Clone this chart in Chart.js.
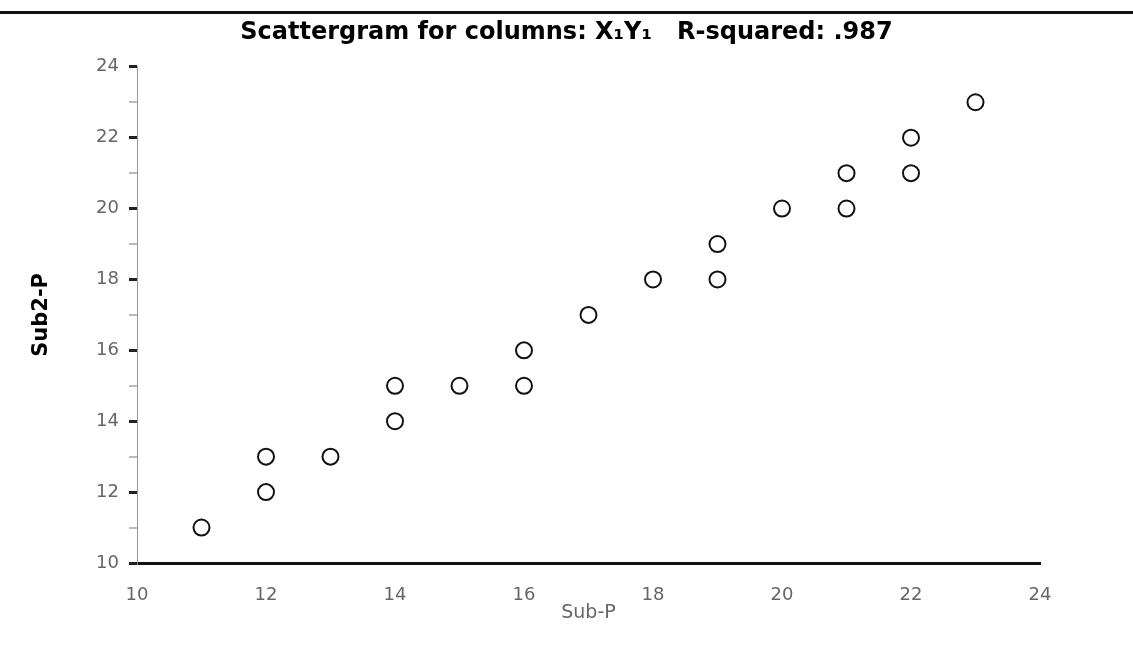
<!DOCTYPE html>
<html>
<head>
<meta charset="utf-8">
<script src="https://cdn.jsdelivr.net/npm/chart.js@4.4.1/dist/chart.umd.min.js"></script>
<style>
  body { margin: 0; background: #fff; }
  #wrap { position: relative; width: 1133px; height: 660px; }
  #topRule { position: absolute; left: 0; top: 11px; width: 1133px; height: 3px; background: #111; }
</style>
</head>
<body>
<div id="wrap">
  <div id="topRule"></div>
  <canvas id="scatterChart" width="1133" height="660"></canvas>
</div>
<script>
// values
const subP  = [11, 12, 12, 13, 14, 14, 15, 16, 16, 17, 18, 19, 19, 20, 21, 21, 22, 22, 23];
const sub2P = [11, 12, 13, 13, 14, 15, 15, 15, 16, 17, 18, 18, 19, 20, 20, 21, 21, 22, 23];
const xTicks = [10, 12, 14, 16, 18, 20, 22, 24];
const yTicks = [10, 12, 14, 16, 18, 20, 22, 24];

const points = subP.map((x, i) => ({ x: x, y: sub2P[i] }));

const ctx = document.getElementById("scatterChart");
const chart = new Chart(ctx, {
    type: "scatter",
    data: {
        datasets: [{
            label: "Sub2-P vs Sub-P",
            data: points,
            pointStyle: "circle",
            pointRadius: 8,
            pointBorderWidth: 2,
            pointBorderColor: "#111",
            pointBackgroundColor: "#fff"
        }]
    },
    options: {
        responsive: false,
        animation: false,
        layout: { padding: 0 },
        plugins: {
            legend: { display: false },
            tooltip: { enabled: false },
            title: {
                display: true,
                text: "Scattergram for columns: X\u2081Y\u2081   R-squared: .987",
                color: "#000",
                font: { family: "DejaVu Sans", size: 24, weight: "bold" },
                padding: { top: 18, bottom: 20 }
            }
        },
        scales: {
            x: {
                type: "linear",
                min: 10,
                max: 24,
                afterBuildTicks: axis => { axis.ticks = xTicks.map(v => ({ value: v })); },
                afterFit: scale => { scale.height = 97; },
                border: { display: true, color: "#111", width: 3 },
                grid: { display: false },
                ticks: {
                    color: "#666",
                    padding: 14,
                    font: { family: "DejaVu Sans", size: 18 }
                },
                title: {
                    display: true,
                    text: "Sub-P",
                    color: "#666",
                    font: { family: "DejaVu Sans", size: 19 },
                    padding: { top: 0, bottom: 36 }
                }
            },
            y: {
                type: "linear",
                min: 10,
                max: 24,
                afterFit: scale => { scale.width = 137; },
                border: { display: true, color: "#999", width: 1, dash: [2, 8] },
                grid: {
                    display: true,
                    drawOnChartArea: false,
                    tickLength: 8,
                    color: ctx => (ctx.tick && ctx.tick.value % 2 === 0) ? "#222" : "#bbb",
                    lineWidth: ctx => (ctx.tick && ctx.tick.value % 2 === 0) ? 3 : 2
                },
                ticks: {
                    stepSize: 1,
                    color: "#666",
                    padding: 10,
                    font: { family: "DejaVu Sans", size: 18 },
                    callback: v => yTicks.includes(v) ? v : ""
                },
                title: {
                    display: true,
                    text: "Sub2-P",
                    color: "#000",
                    font: { family: "DejaVu Sans", size: 21, weight: "bold" },
                    padding: { top: 29, bottom: 0 }
                }
            },
            // empty right-hand margin so the title stays centred on the page
            yRight: {
                type: "linear",
                position: "right",
                min: 10,
                max: 24,
                afterFit: scale => { scale.width = 93; },
                border: { display: false },
                grid: { display: false },
                ticks: { display: false }
            }
        }
    }
});
</script>
</body>
</html>
